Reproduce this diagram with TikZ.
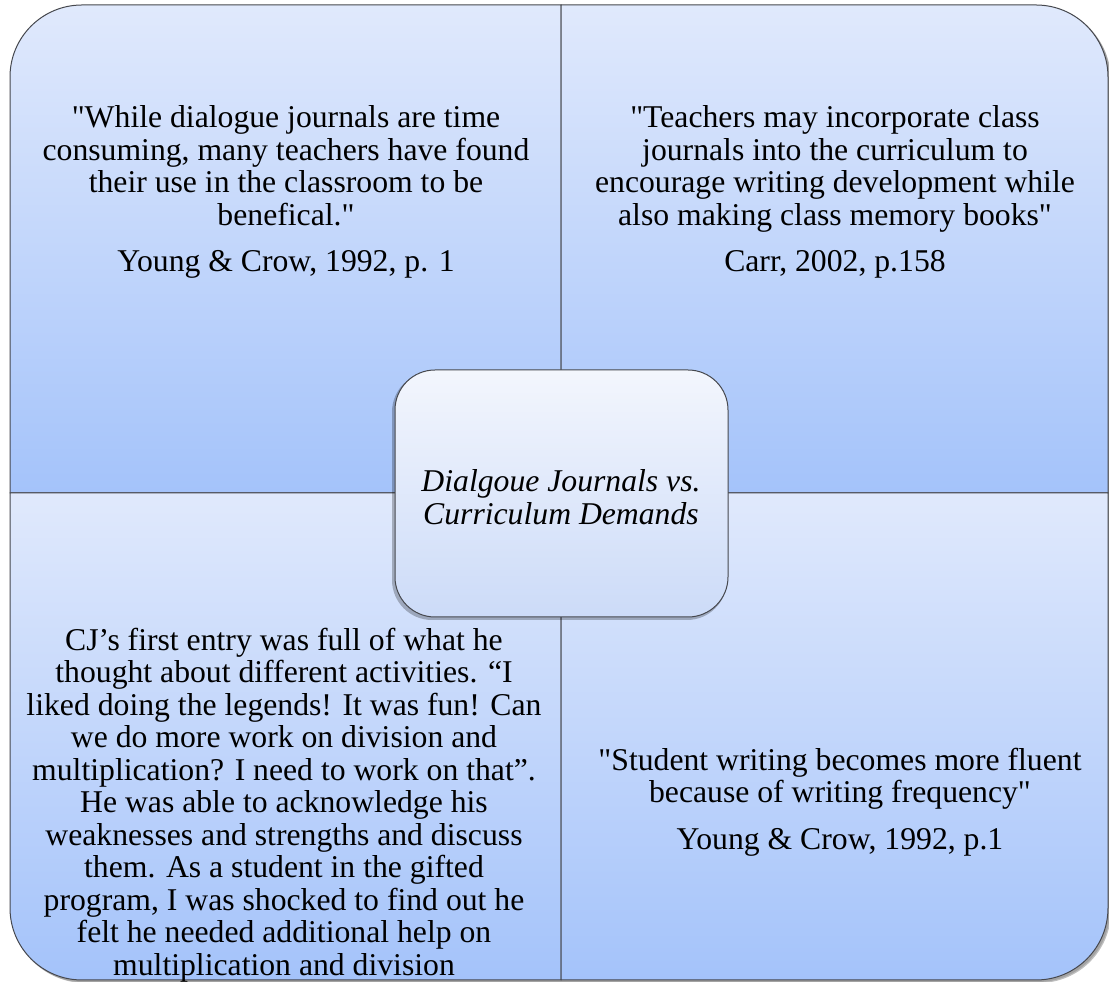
\documentclass[tikz,border=0pt]{standalone}
\usepackage{fontspec}
\setmainfont{Liberation Serif}[Ligatures=TeXOff]
\usetikzlibrary{shadows,shapes.misc}
\definecolor{qtop}{RGB}{224,233,252}
\definecolor{qbot}{RGB}{164,195,250}
\definecolor{ctop}{RGB}{243,246,253}
\definecolor{cbot}{RGB}{204,219,248}
\definecolor{edge}{RGB}{70,72,78}
\tikzset{
  quad/.style={top color=qtop, bottom color=qbot, draw=edge, line width=1pt},
  qtext/.style={align=center, font=\rmfamily\fontsize{31.7}{32.5}\selectfont, inner sep=0pt, text=black},
  ctext/.style={align=center, font=\rmfamily\fontsize{31.7}{32.5}\selectfont\itshape, inner sep=0pt, text=black}
}
\begin{document}
\begin{tikzpicture}[x=1pt,y=1pt]
\useasboundingbox (0,0) rectangle (1109,982);
% outer shadow
\fill[black, opacity=0.25] (13,-1) [rounded corners=72pt] rectangle (1111,974);
\fill[black, opacity=0.15] (11,0) [rounded corners=72pt] rectangle (1110,976);
% quadrants
\path[quad] (10,489) -- (10,905) arc[start angle=180,end angle=90,radius=72] -- (561,977) -- (561,489) -- cycle;
\path[quad] (561,489) -- (561,977) -- (1036,977) arc[start angle=90,end angle=0,radius=72] -- (1108,489) -- cycle;
\path[quad] (10,489) -- (561,489) -- (561,2) -- (82,2) arc[start angle=270,end angle=180,radius=72] -- cycle;
\path[quad] (561,489) -- (1108,489) -- (1108,74) arc[start angle=0,end angle=-90,radius=72] -- (561,2) -- cycle;
% texts
\node[qtext] (tl) at (286,790) {"While dialogue journals are time\\consuming, many teachers have found\\their use in the classroom to be\\benefical."\\[14pt]Young \& Crow, 1992, p. 1};
\node[qtext] (tr) at (835,790) {"Teachers may incorporate class\\journals into the curriculum to\\encourage writing development while\\also making class memory books"\\[14pt]Carr, 2002, p.158};
\node[qtext] (bl) at (284,177) {CJ’s first entry was full of what he\\thought about different activities. “I\\liked doing the legends! It was fun! Can\\we do more work on division and\\multiplication? I need to work on that”.\\He was able to acknowledge his\\weaknesses and strengths and discuss\\them. As a student in the gifted\\program, I was shocked to find out he\\felt he needed additional help on\\multiplication and division};
\node[qtext] (br) at (840,180) {"Student writing becomes more fluent\\because of writing frequency"\\[14pt]Young \& Crow, 1992, p.1};
% center box
\fill[black, opacity=0.25] (392,362) [rounded corners=40pt] rectangle (727,610);
\path[top color=ctop, bottom color=cbot, draw=edge, line width=1pt] (395,365) [rounded corners=40pt] rectangle (728,612);
\node[ctext] (c) at (561,485) {Dialgoue Journals vs.\\Curriculum Demands};
\end{tikzpicture}
\end{document}
